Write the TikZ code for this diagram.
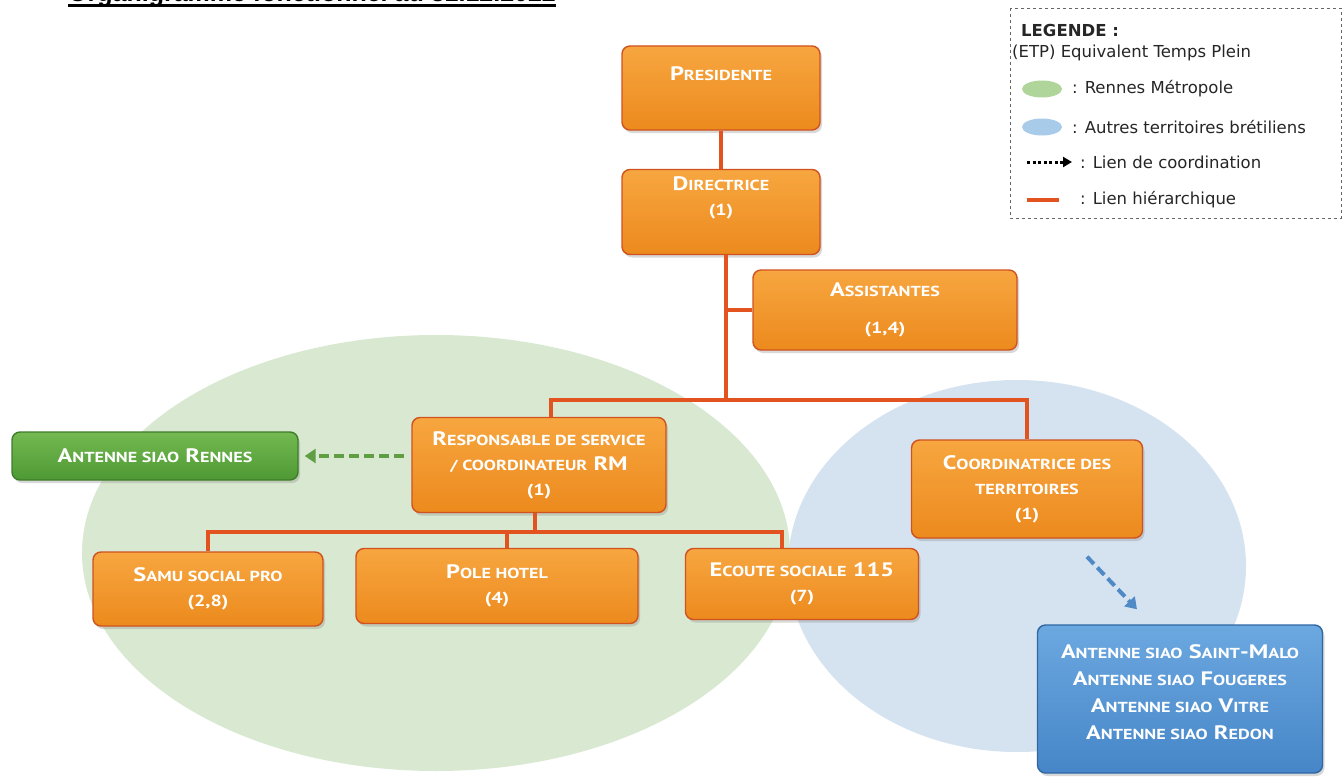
\documentclass[tikz,border=0pt]{standalone}
\usepackage{fontspec}
\setmainfont{PT Sans}
\newfontfamily\titlefont{Liberation Sans}
\newfontfamily\legfont{DejaVu Sans}
\newfontfamily\boxfont[FakeStretch=1.25]{PT Sans}
\usetikzlibrary{shadows,arrows.meta,calc,shapes.geometric}
\definecolor{orgtop}{HTML}{F7A640}
\definecolor{orgbot}{HTML}{EC8A1D}
\definecolor{orgedge}{HTML}{D0521F}
\definecolor{linkc}{HTML}{E3531F}
\definecolor{grntop}{HTML}{74B951}
\definecolor{grnbot}{HTML}{4E9934}
\definecolor{grnedge}{HTML}{3E7D2A}
\definecolor{blutop}{HTML}{6CA8E0}
\definecolor{blubot}{HTML}{4686C8}
\definecolor{bluedge}{HTML}{2F67A3}
\definecolor{zonegreen}{HTML}{D9E9D1}
\definecolor{zoneblue}{HTML}{D5E3F1}
\definecolor{leggreen}{HTML}{AFD59A}
\definecolor{legblue}{HTML}{A9CBEA}
\definecolor{arrgreen}{HTML}{5F9E43}
\definecolor{arrblue}{HTML}{4F8AC6}
\newcommand\K[1]{{\fontsize{14.5}{16}\selectfont #1}}
\newcommand\N[1]{{\fontsize{16}{18}\selectfont #1}}
\tikzset{
  basebox/.style={rounded corners=8pt, line width=1.4pt, text=white, align=center, inner sep=0pt,
    font=\boxfont\bfseries\fontsize{19.5}{25}\selectfont,
    drop shadow={opacity=0.3, shadow xshift=2pt, shadow yshift=-3pt}},
  orgbox/.style={basebox, draw=orgedge, top color=orgtop, bottom color=orgbot},
  grnbox/.style={basebox, draw=grnedge, top color=grntop, bottom color=grnbot},
  blubox/.style={basebox, draw=bluedge, top color=blutop, bottom color=blubot, font=\boxfont\bfseries\fontsize{19.5}{27}\selectfont},
  hier/.style={draw=linkc, line width=4pt},
  coordlink/.style={line width=4pt, dash pattern=on 10pt off 5pt, -{Triangle[length=11pt,width=14pt]}},
  legtext/.style={anchor=west, inner sep=0pt, font=\legfont\fontsize{16.5}{20}\selectfont, text=black!85},
}
\begin{document}
\begin{tikzpicture}[x=1pt,y=-1pt]
\useasboundingbox (0,0) rectangle (1343,776);
\clip (0,0) rectangle (1343,776);
\fill[white] (0,0) rectangle (1343,776);

% title (cut at the top, as in the source)
\node[anchor=base west, inner sep=0pt, font=\titlefont\bfseries\fontsize{25}{30}\selectfont] (title) at (68,1.5) {Organigramme fonctionnel au 31.12.2022};
\draw[line width=3.5pt] ([yshift=-4pt]title.base west) -- ([yshift=-4pt]title.base east);

% zones
\fill[zonegreen] (436,553) ellipse [x radius=354, y radius=218];
\fill[zoneblue] (1017,566) ellipse [x radius=229, y radius=186];

% legend
\draw[black!60, dashed, line width=0.8pt] (1010,8) rectangle (1341,218);
\node[legtext, font=\legfont\bfseries\fontsize{16.5}{20}\selectfont] (legt) at (1021,30) {LEGENDE :};
\node[legtext] (legetp) at (1012,53) {(ETP) Equivalent Temps Plein};
\node[ellipse, fill=leggreen, minimum width=40pt, minimum height=17pt, inner sep=0pt] (legg) at (1042,89) {};
\node[legtext] (legrm) at (1072,89) {: Rennes Métropole};
\node[ellipse, fill=legblue, minimum width=40pt, minimum height=17pt, inner sep=0pt] (legb) at (1042,127) {};
\node[legtext] (legat) at (1072,127) {: Autres territoires brétiliens};
\coordinate (la1) at (1027,162);
\coordinate (la2) at (1072,162);
\draw[line width=3pt, dash pattern=on 3pt off 2.5pt, -{Triangle[length=9pt,width=10pt]}] (la1) -- (la2);
\node[legtext] (legco) at (1080,162) {: Lien de coordination};
\coordinate (lh1) at (1027,200);
\coordinate (lh2) at (1059,200);
\draw[hier] (lh1) -- (lh2);
\node[legtext] (leghi) at (1080,200) {: Lien hiérarchique};

% boxes
\node[orgbox, minimum width=198pt, minimum height=84pt] (pres) at (721,88) {P\K{RESIDENTE}\\[4pt]~};
\node[orgbox, minimum width=198pt, minimum height=85pt] (dir) at (721,212) {D\K{IRECTRICE}\\\N{(1)}\\[6pt]~};
\node[orgbox, minimum width=264pt, minimum height=80pt] (assist) at (885,310) {A\K{SSISTANTES}\\[12pt]\N{(1,4)}};
\node[orgbox, minimum width=254pt, minimum height=95pt] (resp) at (539,465) {R\K{ESPONSABLE DE SERVICE}\\\K{/ COORDINATEUR} RM\\\N{(1)}};
\node[orgbox, minimum width=231pt, minimum height=98pt] (coord) at (1027,489) {C\K{OORDINATRICE DES}\\\K{TERRITOIRES}\\\N{(1)}};
\node[grnbox, minimum width=286pt, minimum height=48pt] (rennes) at (155,456) {A\K{NTENNE SIAO} R\K{ENNES}};
\node[orgbox, minimum width=230pt, minimum height=74pt] (samu) at (208,589) {S\K{AMU SOCIAL PRO}\\\N{(2,8)}};
\node[orgbox, minimum width=282pt, minimum height=75pt] (pole) at (497,586) {P\K{OLE HOTEL}\\\N{(4)}};
\node[orgbox, minimum width=233pt, minimum height=71pt] (ecoute) at (802,584) {E\K{COUTE SOCIALE} 115\\\N{(7)}};
\node[blubox, minimum width=285pt, minimum height=148pt] (antennes) at (1180,699) {A\K{NTENNE SIAO} S\K{AINT}-M\K{ALO}\\A\K{NTENNE SIAO} F\K{OUGERES}\\A\K{NTENNE SIAO} V\K{ITRE}\\A\K{NTENNE SIAO} R\K{EDON}\\[-13pt]\mbox{}};

% hierarchy links
\draw[hier] (pres.south) -- (dir.north);
\coordinate (j1) at ($(dir.south)+(5,145)$);
\draw[hier] ([xshift=5pt]dir.south) -- (j1);
\draw[hier] (assist.west) -- (assist.west -| j1);
\draw[hier] ([xshift=12pt]resp.north) |- (j1) -| (coord.north);
\coordinate (j2) at ($(resp.south)+(-4,19)$);
\draw[hier] ([xshift=-4pt]resp.south) -- (j2);
\draw[hier] (samu.north) |- (j2) -| ([xshift=-20pt]ecoute.north);
\draw[hier] ([xshift=10pt]pole.north) -- ([xshift=10pt]pole.north |- j2);

% coordination links
\draw[coordlink, arrgreen] (rennes.east -| resp.west) ++(-7,0) -- ([xshift=6pt]rennes.east);
\draw[coordlink, arrblue] ($(coord.south)+(60,18)$) -- ($(antennes.north)+(-43,-15)$);
\end{tikzpicture}
\end{document}
